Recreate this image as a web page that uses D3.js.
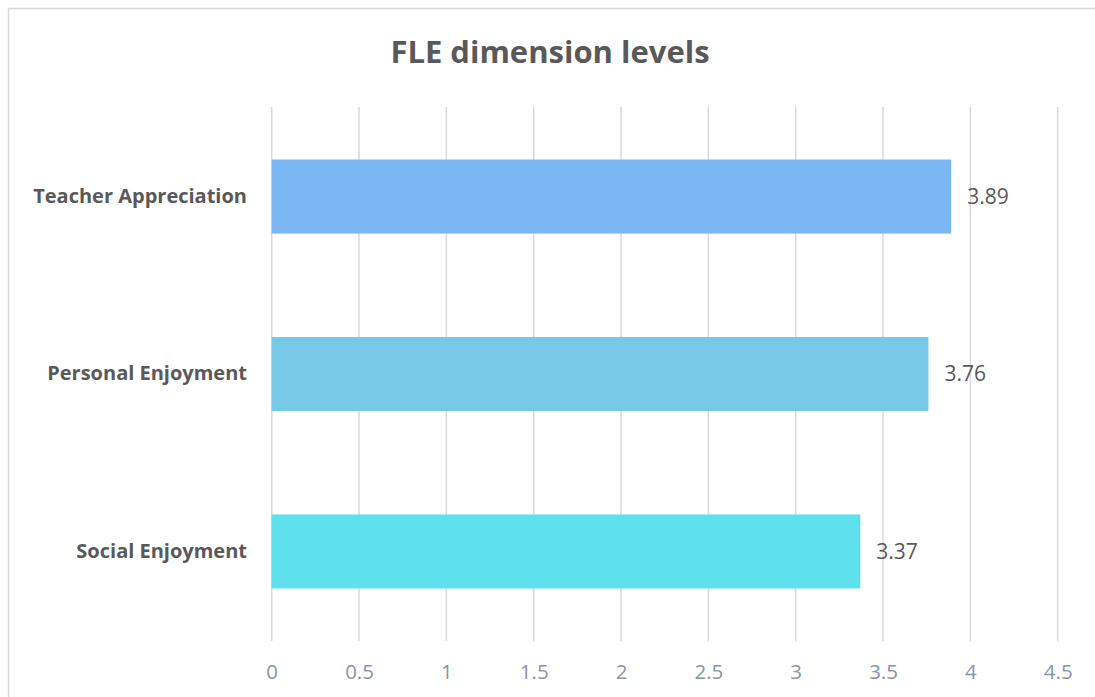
<!DOCTYPE html>
<html>
<head>
<meta charset="utf-8">
<script src="https://cdn.jsdelivr.net/npm/d3@7"></script>
<style>
  html, body { margin: 0; padding: 0; background: #fff; }
  svg { display: block; }
  text { font-family: "Open Sans", "Noto Sans", sans-serif; }
</style>
</head>
<body>
<svg id="chart" width="1095" height="697"></svg>
<script>
// FLE dimension means
const categories = ["Teacher Appreciation", "Personal Enjoyment", "Social Enjoyment"];
const values = [3.89, 3.76, 3.37];
const barColors = ["#7ab5f4", "#78c9e8", "#5ee1ed"];
const tickValues = [0, 0.5, 1, 1.5, 2, 2.5, 3, 3.5, 4, 4.5];
const title = "FLE dimension levels";

const svg = d3.select("#chart");
const W = 1095, H = 697;
const plot = { left: 271.7, right: 1057.7, top: 107, bottom: 641 };

// outer frame (top and left edges visible)
svg.append("rect")
  .attr("x", 8.5).attr("y", 8.5)
  .attr("width", W + 20).attr("height", H + 20)
  .attr("fill", "none").attr("stroke", "#d9d9d9").attr("stroke-width", 1.5);

const x = d3.scaleLinear().domain([0, 4.5]).range([plot.left, plot.right]);
const y = d3.scaleBand().domain(categories).range([plot.top, plot.bottom])
  .paddingInner(0.583).paddingOuter(0.296);

// vertical gridlines
svg.append("g").selectAll("line").data(tickValues).join("line")
  .attr("x1", d => x(d)).attr("x2", d => x(d))
  .attr("y1", plot.top).attr("y2", plot.bottom)
  .attr("stroke", "#d9d9d9").attr("stroke-width", 1.5);

// x axis labels
const xAxis = d3.axisBottom(x).tickValues(tickValues).tickSize(0).tickPadding(0)
  .tickFormat(d => String(d));
const gx = svg.append("g").attr("transform", `translate(0,${672})`).call(xAxis);
gx.select(".domain").remove();
gx.selectAll("text")
  .attr("dy", "0.35em")
  .attr("fill", "#8a94a6")
  .attr("font-size", 20.5)
  .style("font-family", '"Open Sans", "Noto Sans", sans-serif');

// bars
svg.append("g").selectAll("rect").data(categories).join("rect")
  .attr("x", x(0))
  .attr("y", d => y(d))
  .attr("width", (d, i) => x(values[i]) - x(0))
  .attr("height", y.bandwidth())
  .attr("fill", (d, i) => barColors[i]);

// value labels
svg.append("g").selectAll("text").data(categories).join("text")
  .attr("x", (d, i) => x(values[i]) + 16)
  .attr("y", d => y(d) + y.bandwidth() / 2)
  .attr("dy", "0.35em")
  .attr("fill", "#595959")
  .attr("font-size", 21)
  .text((d, i) => values[i].toFixed(2));

// category labels
const yAxis = d3.axisLeft(y).tickSize(0).tickPadding(0);
const gy = svg.append("g").attr("transform", `translate(${247},0)`).call(yAxis);
gy.select(".domain").remove();
gy.selectAll("text")
  .attr("fill", "#595959")
  .attr("font-size", 20)
  .attr("font-weight", "bold")
  .style("font-family", '"Open Sans", "Noto Sans", sans-serif');

// title
svg.append("text")
  .attr("x", 550).attr("y", 52)
  .attr("text-anchor", "middle")
  .attr("dy", "0.35em")
  .attr("fill", "#595959")
  .attr("font-size", 31)
  .attr("font-weight", "bold")
  .text(title);
</script>
</body>
</html>
